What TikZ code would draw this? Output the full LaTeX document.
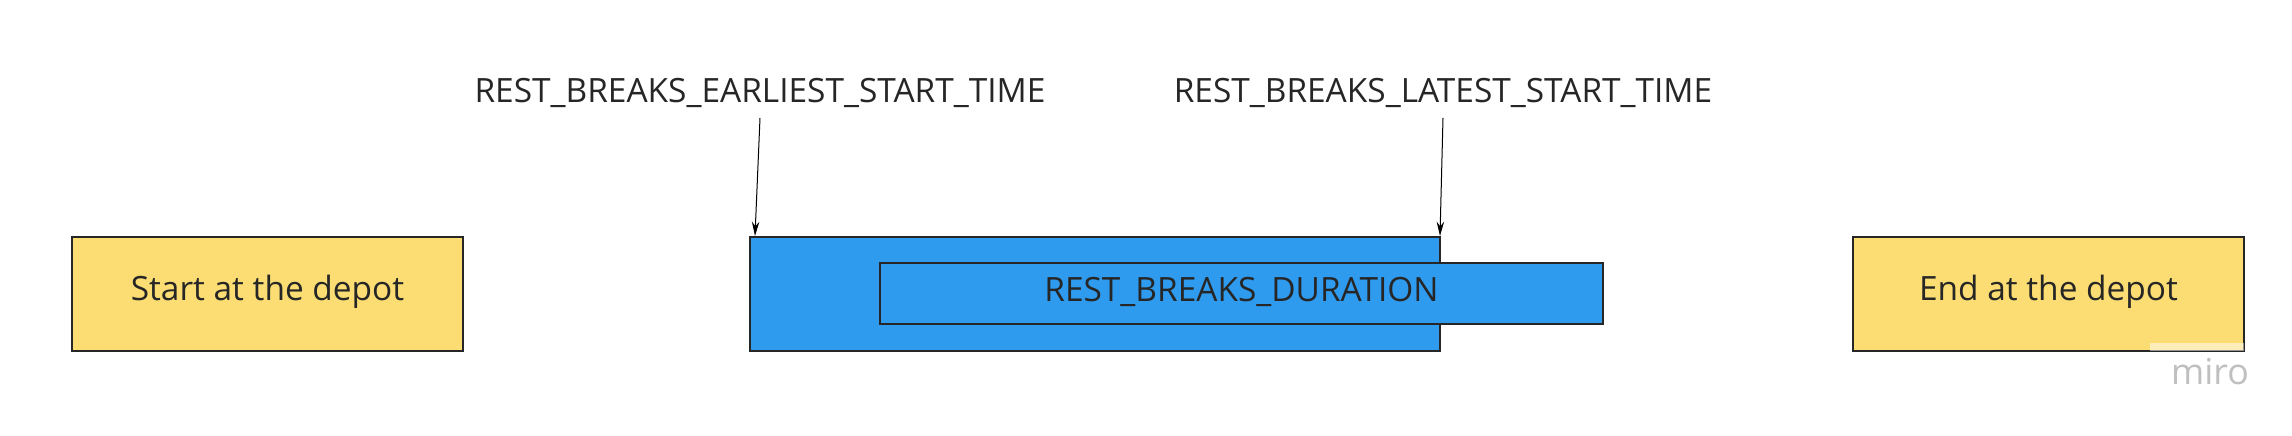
\documentclass[tikz,border=0pt]{standalone}
\usepackage{fontspec}
\setmainfont{Open Sans}
\usetikzlibrary{arrows.meta}
\definecolor{depotyellow}{RGB}{251,221,115}
\definecolor{breakblue}{RGB}{47,155,239}
\tikzset{
  depotbox/.style={draw=black!85,fill=depotyellow,line width=0.6pt},
  breakbox/.style={draw=black!85,fill=breakblue,line width=0.6pt},
  label/.style={inner sep=0.75pt,font=\fontsize{11.7}{14}\selectfont,text=black!85},
  pointer/.style={-{Stealth[length=5pt,width=2.6pt]},line width=0.35pt}
}
\begin{document}
\begin{tikzpicture}[x=0.35pt,y=0.35pt,yscale=-1,xscale=1]
\useasboundingbox (0,0) rectangle (2292,436);

% depot boxes
\draw[depotbox] (72,237) rectangle (463,351);
\node[label] (start) at (267.5,292) {Start at the depot};
\draw[depotbox] (1853,237) rectangle (2244,351);
\node[label] (end) at (2048.5,292) {End at the depot};

% rest break window and duration
\draw[breakbox] (750,237) rectangle (1440,351);
\draw[breakbox] (880,263) rectangle (1603,324);
\node[label] (duration) at (1241.5,292) {REST\_BREAKS\_DURATION};

% time labels
\node[label] (earliest) at (760,93) {REST\_BREAKS\_EARLIEST\_START\_TIME};
\node[label] (latest) at (1443,93) {REST\_BREAKS\_LATEST\_START\_TIME};
\coordinate (earliestTip) at (755,236);
\coordinate (latestTip) at (1440,236);
\draw[pointer] (760,118) -- (earliestTip);
\draw[pointer] (1443,118) -- (latestTip);

% watermark
\fill[white,opacity=0.5] (2150,343) rectangle (2244,351);
\node[label,text=black!25,font=\fontsize{12.5}{14}\selectfont] (miro) at (2210,372) {miro};
\end{tikzpicture}
\end{document}
